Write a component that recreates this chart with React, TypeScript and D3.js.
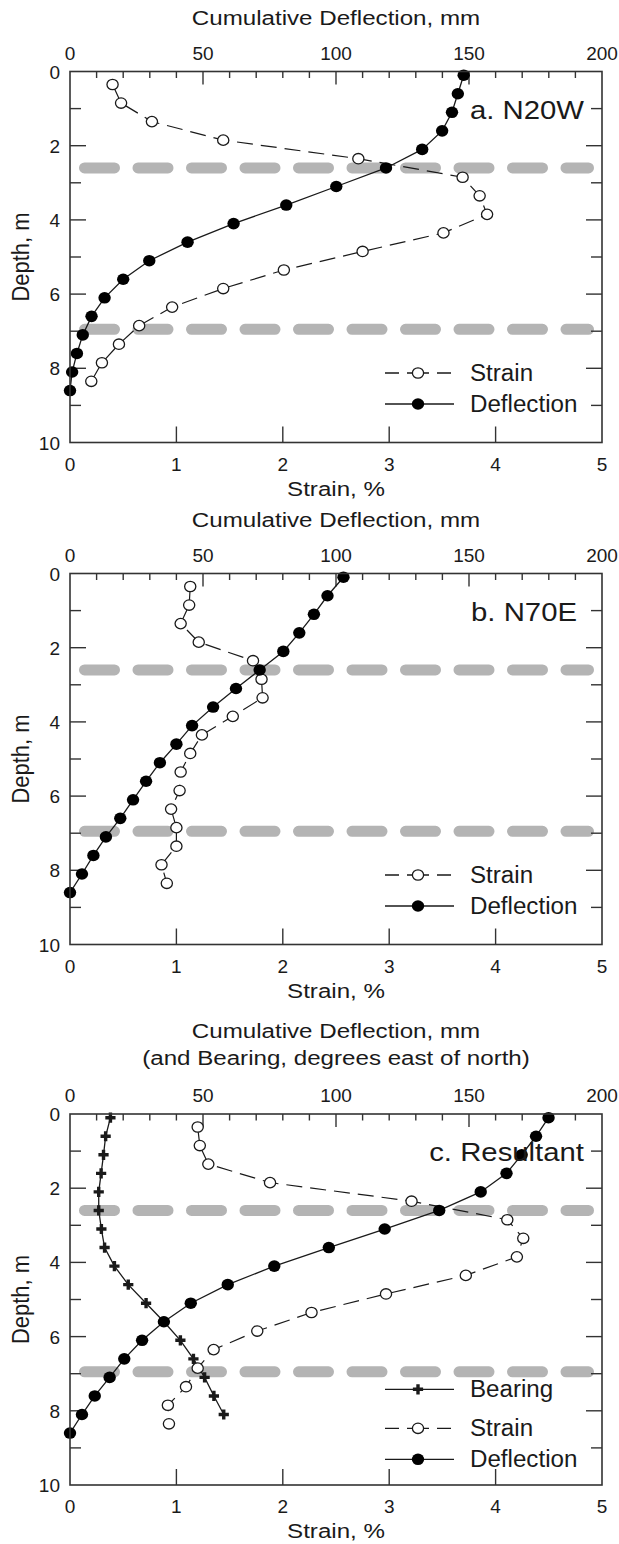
import React from 'react';
import * as d3 from 'd3';

// ---------------- data ----------------
const strainDepths = [0.35, 0.85, 1.35, 1.85, 2.35, 2.85, 3.35, 3.85, 4.35, 4.85, 5.35, 5.85, 6.35, 6.85, 7.35, 7.85, 8.35];
const deflDepths = [0.1, 0.6, 1.1, 1.6, 2.1, 2.6, 3.1, 3.6, 4.1, 4.6, 5.1, 5.6, 6.1, 6.6, 7.1, 7.6, 8.1, 8.6];
const bearingDepths = [0.1, 0.6, 1.1, 1.6, 2.1, 2.6, 3.1, 3.6, 4.1, 4.6, 5.1, 5.6, 6.1, 6.6, 7.1, 7.6, 8.1];

// Panel a. N20W
const strainA = [0.40, 0.48, 0.77, 1.44, 2.71, 3.69, 3.85, 3.92, 3.51, 2.75, 2.01, 1.44, 0.96, 0.65, 0.46, 0.30, 0.20];
const deflA = [148.0, 145.8, 143.6, 139.9, 132.4, 118.8, 100.1, 81.3, 61.5, 44.2, 29.8, 20.0, 13.0, 8.1, 4.8, 2.6, 0.8, 0.0];

// Panel b. N70E
const strainB = [1.13, 1.12, 1.04, 1.21, 1.72, 1.80, 1.81, 1.53, 1.24, 1.13, 1.04, 1.03, 0.95, 1.00, 1.00, 0.86, 0.91];
const deflB = [102.8, 96.8, 91.7, 86.2, 80.2, 71.3, 62.4, 53.8, 45.9, 40.0, 33.8, 28.6, 23.7, 18.9, 13.5, 8.8, 4.5, 0.0];

// Panel c. Resultant
const strainC = [1.20, 1.22, 1.30, 1.88, 3.21, 4.11, 4.26, 4.20, 3.72, 2.97, 2.27, 1.76, 1.35, 1.20, 1.09, 0.92, 0.93];
const deflC = [179.9, 175.2, 169.8, 164.1, 154.4, 138.8, 118.3, 97.3, 76.8, 59.3, 45.4, 35.3, 27.1, 20.4, 14.9, 9.3, 4.5, 0.0];
const bearingC = [15.2, 13.4, 12.6, 11.7, 10.8, 10.8, 11.8, 13.0, 16.7, 21.9, 28.6, 35.3, 41.5, 46.4, 50.6, 54.1, 57.8];

// axes
const strainTicks = [0, 1, 2, 3, 4, 5];
const deflTickLabels = [0, 50, 100, 150, 200];
const deflMinorTicks = [10, 20, 30, 40, 60, 70, 80, 90, 110, 120, 130, 140, 160, 170, 180, 190];
const depthLabels = [0, 2, 4, 6, 8, 10];
const depthMinor = [1, 3, 5, 7, 9];
const depthMajorInner = [2, 4, 6, 8];
const zoneDepths = [2.6, 6.95];

// ---------------- layout ----------------
const FONT = '"Liberation Sans", Arial, Helvetica, sans-serif';
const L = 70;
const R = 602;
const H = 371;
const AXIS = '#333';
const INK = '#1a1a1a';

function SText(props: any) {
  const { x, y, sx = 1, size, anchor = 'start', children, rotate } = props;
  const tr = rotate
    ? `translate(${x},${y}) rotate(${rotate}) scale(1,${sx})`
    : `translate(${x},${y}) scale(${sx},1)`;
  return (
    <text transform={tr} fontSize={size} textAnchor={anchor} fontFamily={FONT} fill={INK}>
      {children}
    </text>
  );
}

const crossPath = d3.symbol().type(d3.symbolCross).size(58)() as string;

function Panel(props: any) {
  const { top, titles, label, labelRight, strain, defl, bearing, legend } = props;
  const x = d3.scaleLinear().domain([0, 5]).range([L, R]);
  const xt = d3.scaleLinear().domain([0, 200]).range([L, R]);
  const y = d3.scaleLinear().domain([0, 10]).range([top, top + H]);
  const line = d3.line<[number, number]>();

  const sPts: [number, number][] = strain.map((v: number, i: number) => [x(v), y(strainDepths[i])]);
  const dPts: [number, number][] = defl.map((v: number, i: number) => [xt(v), y(deflDepths[i])]);
  const bPts: [number, number][] = bearing
    ? bearing.map((v: number, i: number) => [xt(v), y(bearingDepths[i])])
    : [];

  const bottom = top + H;
  const lx0 = 385;
  const lxm = 418;
  const ltx = 470;

  return (
    <g>
      {/* titles */}
      {titles.map((t: string, i: number) => (
        <SText key={t} x={(L + R) / 2} y={top - (titles.length === 2 ? 76 - i * 27 : 47)} sx={1.15} size={21} anchor="middle">
          {t}
        </SText>
      ))}
      {/* top tick labels */}
      {deflTickLabels.map((v) => (
        <text key={'tl' + v} x={xt(v)} y={top - 12} fontSize={19} textAnchor="middle" fontFamily={FONT} fill={INK}>
          {v}
        </text>
      ))}
      {/* bottom tick labels */}
      {strainTicks.map((v) => (
        <text key={'bl' + v} x={x(v)} y={bottom + 28} fontSize={19} textAnchor="middle" fontFamily={FONT} fill={INK}>
          {v}
        </text>
      ))}
      {/* left tick labels */}
      {depthLabels.map((v) => (
        <text key={'ll' + v} x={L - 10} y={y(v) + 7} fontSize={19} textAnchor="end" fontFamily={FONT} fill={INK}>
          {v}
        </text>
      ))}
      <SText x={(L + R) / 2} y={bottom + 53} sx={1.15} size={21} anchor="middle">
        Strain, %
      </SText>
      <SText x={29} y={top + H / 2} size={22} anchor="middle" rotate={-90} sx={1.1}>
        Depth, m
      </SText>

      {/* weak zones */}
      {zoneDepths.map((d) => (
        <line
          key={'z' + d}
          x1={L + 14.5}
          x2={R - 13.5}
          y1={y(d)}
          y2={y(d)}
          stroke="#b4b4b4"
          strokeWidth={11}
          strokeLinecap="round"
          strokeDasharray="30 23.5"
        />
      ))}

      {/* ticks */}
      {deflMinorTicks.map((v) => (
        <line key={'tm' + v} x1={xt(v)} x2={xt(v)} y1={top} y2={top + 6.5} stroke={AXIS} strokeWidth={1.4} />
      ))}
      {[50, 100, 150].map((v) => (
        <line key={'tM' + v} x1={xt(v)} x2={xt(v)} y1={top} y2={top + 13} stroke={AXIS} strokeWidth={1.4} />
      ))}
      {[1, 2, 3, 4].map((v) => (
        <line key={'bM' + v} x1={x(v)} x2={x(v)} y1={bottom} y2={bottom - 16} stroke={AXIS} strokeWidth={1.4} />
      ))}
      {depthMinor.map((v) => (
        <g key={'dm' + v}>
          <line x1={L} x2={L + 11} y1={y(v)} y2={y(v)} stroke={AXIS} strokeWidth={1.4} />
          <line x1={R} x2={R - 11} y1={y(v)} y2={y(v)} stroke={AXIS} strokeWidth={1.4} />
        </g>
      ))}
      {depthMajorInner.map((v) => (
        <g key={'dM' + v}>
          <line x1={L} x2={L + 16} y1={y(v)} y2={y(v)} stroke={AXIS} strokeWidth={1.4} />
          <line x1={R} x2={R - 16} y1={y(v)} y2={y(v)} stroke={AXIS} strokeWidth={1.4} />
        </g>
      ))}

      {/* series lines */}
      <path d={line(sPts) as string} fill="none" stroke={INK} strokeWidth={1.2} strokeDasharray="16 8" />
      <path d={line(dPts) as string} fill="none" stroke={INK} strokeWidth={1.3} />
      {bearing && <path d={line(bPts) as string} fill="none" stroke={INK} strokeWidth={1.3} />}

      {/* markers */}
      {bPts.map((p, i) => (
        <path key={'bp' + i} d={crossPath} transform={`translate(${p[0]},${p[1]})`} fill={INK} />
      ))}
      {sPts.map((p, i) => (
        <ellipse key={'sp' + i} cx={p[0]} cy={p[1]} rx={5.6} ry={5.2} fill="#fff" stroke={INK} strokeWidth={1.3} />
      ))}
      {dPts.map((p, i) => (
        <ellipse key={'dp' + i} cx={p[0]} cy={p[1]} rx={6.2} ry={5.8} fill="#000" />
      ))}

      {/* frame */}
      <rect x={L} y={top} width={R - L} height={H} fill="none" stroke={AXIS} strokeWidth={1.6} />

      {/* panel label */}
      <SText x={labelRight} y={y(1) + 10} sx={1.15} size={25.5} anchor="end">
        {label}
      </SText>

      {/* legend */}
      {legend.map((row: any) => {
        const ly = top + row.dy;
        return (
          <g key={row.name}>
            <line
              x1={lx0}
              x2={row.kind === 'strain' ? lx0 + 66 : lx0 + 69}
              y1={ly}
              y2={ly}
              stroke={INK}
              strokeWidth={1.3}
              strokeDasharray={row.kind === 'strain' ? '14 8 22 8 14' : undefined}
            />
            {row.kind === 'strain' && (
              <ellipse cx={lxm} cy={ly} rx={5.6} ry={5.2} fill="#fff" stroke={INK} strokeWidth={1.3} />
            )}
            {row.kind === 'defl' && <ellipse cx={lxm} cy={ly} rx={6.2} ry={5.8} fill="#000" />}
            {row.kind === 'bearing' && <path d={crossPath} transform={`translate(${lxm},${ly})`} fill={INK} />}
            <SText x={ltx} y={ly + 8} sx={1.05} size={23}>
              {row.name}
            </SText>
          </g>
        );
      })}
    </g>
  );
}

const legendAB = [
  { name: 'Strain', kind: 'strain', dy: 301.5 },
  { name: 'Deflection', kind: 'defl', dy: 332.5 },
];
const legendC = [
  { name: 'Bearing', kind: 'bearing', dy: 275.3 },
  { name: 'Strain', kind: 'strain', dy: 314.3 },
  { name: 'Deflection', kind: 'defl', dy: 345.3 },
];

export default function App() {
  return (
    <svg
      width={619}
      height={1544}
      viewBox="0 0 619 1544"
      style={{ position: 'absolute', left: 0, top: 0, display: 'block', background: '#fff' }}
    >
      <rect x={0} y={0} width={619} height={1544} fill="#fff" />
      <Panel
        top={71.5}
        titles={['Cumulative Deflection, mm']}
        label="a. N20W"
        labelRight={584}
        strain={strainA}
        defl={deflA}
        legend={legendAB}
      />
      <Panel
        top={573.5}
        titles={['Cumulative Deflection, mm']}
        label="b. N70E"
        labelRight={577}
        strain={strainB}
        defl={deflB}
        legend={legendAB}
      />
      <Panel
        top={1114}
        titles={['Cumulative Deflection, mm', '(and Bearing, degrees east of north)']}
        label="c. Resultant"
        labelRight={584}
        strain={strainC}
        defl={deflC}
        bearing={bearingC}
        legend={legendC}
      />
    </svg>
  );
}
